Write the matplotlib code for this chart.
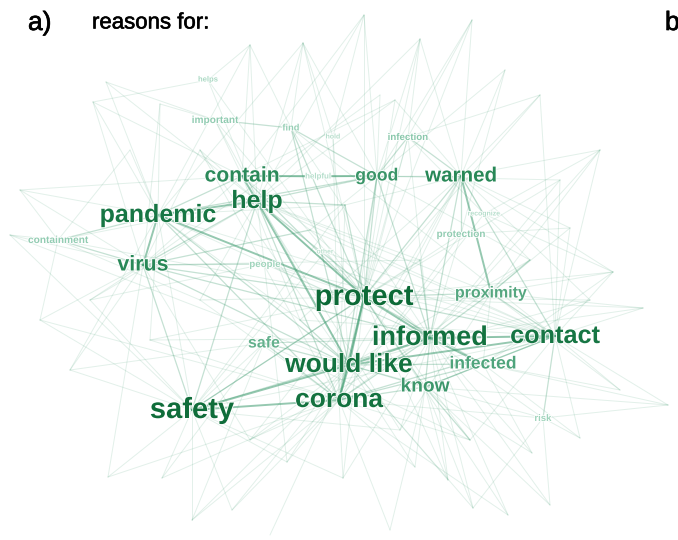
import numpy as np
import matplotlib
matplotlib.use("Agg")
import matplotlib.pyplot as plt
import matplotlib.patheffects as pe
from matplotlib.colors import LinearSegmentedColormap

plt.rcParams['font.family'] = ['Liberation Sans', 'DejaVu Sans']

# word nodes: label, layout position (px), font size, shade (0 pale .. 1 dark)
words = ["protect", "safety", "would like", "informed", "corona", "contact",
         "pandemic", "help", "contain", "warned", "good", "virus", "know",
         "infected", "proximity", "safe", "infection", "important",
         "containment", "protection", "people", "find", "helps", "risk",
         "hold", "helpful", "recognize", "other"]
word_x = [364, 192, 349, 430, 339, 555, 158, 257, 242, 461, 377, 143, 425,
          483, 491, 264, 408, 215, 58, 461, 265, 291, 208, 543, 333, 318, 484, 325]
word_y = [297, 410, 365, 338, 400, 336, 215, 201, 176, 176, 176, 265, 387,
          364, 293, 343, 137, 120, 240, 234, 264, 128, 80, 418, 137, 177, 214, 252]
word_size = [21, 21, 19, 19.5, 19, 18.2, 18, 18, 15.2, 14.8, 12.7, 15.4, 13.8,
             12.6, 11.5, 11.5, 7, 7.3, 7.3, 7.2, 7, 6.7, 5.5, 6.9, 5, 5.7, 5, 4.9]
word_shade = [1.0, 0.97, 0.92, 0.92, 0.92, 0.88, 0.88, 0.88, 0.7, 0.72, 0.62,
              0.72, 0.6, 0.5, 0.48, 0.42, 0.28, 0.24, 0.24, 0.24, 0.18, 0.22,
              0.14, 0.18, 0.1, 0.1, 0.1, 0.08]

# unlabeled end points of the network
hub_x = [303, 420, 472, 364, 250, 106, 93, 160, 20, 10, 40, 70, 108, 162, 192,
         232, 287, 343, 415, 448, 473, 508, 550, 532, 580, 620, 668, 643, 613,
         570, 600, 540, 505, 380, 130, 90, 270, 390,
         345, 310, 420, 530, 200, 300, 470, 400, 250, 560, 395, 200, 150, 590]
hub_y = [43, 39, 20, 15, 45, 82, 102, 104, 190, 235, 320, 370, 477, 478, 520,
         510, 462, 478, 467, 480, 508, 515, 505, 453, 438, 390, 405, 308, 272,
         228, 150, 95, 70, 95, 150, 300, 535, 530,
         205, 230, 260, 260, 300, 320, 440, 430, 440, 180, 100, 150, 340, 300]

strong_edges = [
    ("protect", "would like"), ("protect", "corona"), ("protect", "informed"),
    ("informed", "contact"), ("would like", "corona"), ("would like", "informed"),
    ("help", "protect"), ("pandemic", "protect"), ("contain", "good"),
    ("pandemic", "virus"), ("safety", "would like"), ("contact", "would like"),
    ("warned", "proximity"), ("help", "would like"), ("informed", "infected"),
    ("contain", "help"), ("pandemic", "help"), ("corona", "safety"),
]

medium_edges = [
    ("protect", "contact"), ("protect", "proximity"), ("protect", "warned"),
    ("protect", "good"), ("protect", "safety"), ("protect", "virus"),
    ("protect", "know"), ("protect", "infected"), ("corona", "know"),
    ("corona", "infected"), ("corona", "help"), ("corona", "pandemic"),
    ("corona", "contact"), ("would like", "know"), ("would like", "infected"),
    ("would like", "pandemic"), ("would like", "virus"), ("would like", "safe"),
    ("informed", "know"), ("informed", "warned"), ("informed", "help"),
    ("informed", "corona"), ("informed", "proximity"), ("contact", "infected"),
    ("contact", "proximity"), ("contact", "know"), ("contact", "risk"),
    ("help", "good"), ("help", "virus"), ("pandemic", "contain"),
    ("pandemic", "containment"), ("pandemic", "good"), ("virus", "containment"),
    ("virus", "people"), ("virus", "safety"), ("warned", "good"),
    ("warned", "protection"), ("warned", "infection"), ("good", "find"),
    ("good", "corona"), ("important", "find"), ("find", "would like"),
    ("infection", "good"), ("safe", "corona"), ("safety", "help"),
    ("safety", "informed"), ("know", "infected"), ("contain", "protect"),
    ("good", "informed"), ("warned", "contact"), ("helpful", "contain"),
    ("helpful", "good"), ("find", "protect"), ("virus", "informed"),
    ("help", "a38"), ("protect", "a38"), ("virus", "a39"), ("informed", "a40"),
    ("proximity", "a41"), ("would like", "a43"), ("know", "a44"),
]

faint_edges = [
    ("safety", "a12"), ("safety", "a13"), ("safety", "a14"), ("safety", "a15"),
    ("safety", "a16"), ("corona", "a16"), ("corona", "a17"), ("corona", "a18"),
    ("corona", "a15"), ("would like", "a18"), ("would like", "a19"),
    ("would like", "a20"), ("informed", "a21"), ("informed", "a22"),
    ("informed", "a23"), ("know", "a19"), ("know", "a20"), ("know", "a23"),
    ("risk", "a22"), ("risk", "a24"), ("contact", "a25"), ("contact", "a26"),
    ("contact", "a27"), ("contact", "a28"), ("proximity", "a28"),
    ("proximity", "a29"), ("proximity", "a27"), ("infected", "a26"),
    ("infected", "a25"), ("warned", "a29"), ("warned", "a30"), ("warned", "a31"),
    ("warned", "a32"), ("infection", "a31"), ("infection", "a1"),
    ("infection", "a2"), ("good", "a1"), ("good", "a3"), ("good", "a33"),
    ("hold", "a3"), ("hold", "a0"), ("find", "a0"), ("find", "a4"),
    ("help", "a0"), ("help", "a4"), ("help", "a5"), ("contain", "a4"),
    ("contain", "a6"), ("important", "a5"), ("important", "a7"),
    ("helps", "a6"), ("helps", "a4"), ("pandemic", "a6"), ("pandemic", "a7"),
    ("pandemic", "a8"), ("pandemic", "a34"), ("virus", "a8"), ("virus", "a9"),
    ("virus", "a10"), ("virus", "a11"), ("virus", "a35"), ("containment", "a8"),
    ("containment", "a34"), ("safety", "a11"), ("safety", "a10"),
    ("safe", "a11"), ("safe", "a13"), ("protect", "a2"), ("protect", "a3"),
    ("protect", "a17"), ("protect", "a21"), ("corona", "a13"),
    ("people", "a35"), ("protection", "a29"), ("protection", "a32"),
    ("recognize", "a30"), ("recognize", "a28"), ("would like", "a36"),
    ("corona", "a37"), ("know", "a37"), ("informed", "a19"), ("contact", "a24"),
    ("people", "protect"), ("people", "informed"), ("other", "protect"),
    ("other", "contact"), ("recognize", "warned"), ("protection", "informed"),
    ("protection", "corona"), ("infection", "protect"), ("important", "contain"),
    ("important", "would like"), ("helps", "help"), ("find", "informed"),
    ("hold", "would like"), ("safe", "informed"), ("safe", "contact"),
    ("infected", "proximity"), ("pandemic", "informed"), ("pandemic", "contact"),
    ("help", "contact"), ("help", "proximity"), ("contain", "virus"),
    ("good", "would like"), ("warned", "would like"), ("warned", "corona"),
    ("safety", "contact"), ("safety", "safe"), ("safety", "pandemic"),
    ("containment", "protect"), ("containment", "help"), ("risk", "informed"),
    ("risk", "would like"), ("risk", "corona"), ("important", "protect"),
    ("infection", "corona"), ("helps", "protect"), ("hold", "corona"),
    ("recognize", "corona"), ("protection", "safety"), ("other", "safety"),
    ("people", "contact"), ("find", "contact"), ("infection", "informed"),
    ("help", "a1"), ("pandemic", "a0"), ("virus", "a33"), ("warned", "a2"),
    ("proximity", "a30"), ("contact", "a29"), ("infected", "a24"),
    ("know", "a22"), ("corona", "a21"), ("safety", "a17"), ("virus", "a12"),
    ("safe", "a14"), ("would like", "a15"), ("informed", "a27"),
    ("contain", "a3"), ("good", "a32"), ("protect", "a31"), ("help", "a35"),
    # extra interior connections
    ("a38", "pandemic"), ("a38", "corona"), ("a38", "warned"), ("a38", "safety"),
    ("a39", "contain"), ("a39", "informed"), ("a39", "contact"), ("a39", "good"),
    ("a40", "help"), ("a40", "warned"), ("a40", "safety"), ("a40", "virus"),
    ("a41", "good"), ("a41", "would like"), ("a41", "infection"), ("a41", "corona"),
    ("a42", "help"), ("a42", "protect"), ("a42", "corona"), ("a42", "containment"),
    ("a43", "pandemic"), ("a43", "warned"), ("a43", "contact"), ("a43", "contain"),
    ("a44", "corona"), ("a44", "contact"), ("a44", "protect"), ("a44", "safe"),
    ("a45", "informed"), ("a45", "safety"), ("a45", "proximity"), ("a45", "help"),
    ("a46", "would like"), ("a46", "informed"), ("a46", "virus"), ("a46", "protect"),
    ("a47", "protect"), ("a47", "informed"), ("a47", "good"), ("a47", "contact"),
    ("a48", "help"), ("a48", "protect"), ("a48", "warned"), ("a48", "contain"),
    ("a49", "protect"), ("a49", "corona"), ("a49", "virus"), ("a49", "would like"),
    ("a50", "protect"), ("a50", "pandemic"), ("a50", "corona"), ("a50", "informed"),
    ("a51", "would like"), ("a51", "protect"), ("a51", "infected"), ("a51", "warned"),
    ("infected", "a23"), ("infected", "a28"), ("proximity", "a25"),
    ("know", "a18"), ("know", "a26"), ("risk", "a26"), ("risk", "a20"),
    ("contact", "a30"), ("contact", "a31"), ("warned", "a28"), ("warned", "a1"),
    ("good", "a0"), ("good", "a2"), ("help", "a3"), ("pandemic", "a4"),
    ("pandemic", "a5"), ("virus", "a6"), ("virus", "a7"), ("containment", "a9"),
    ("containment", "a10"), ("safety", "a35"), ("safety", "a9"),
    ("corona", "a12"), ("corona", "a14"), ("would like", "a14"),
    ("would like", "a16"), ("informed", "a17"), ("informed", "a20"),
    ("protect", "a19"), ("protect", "a0"), ("protect", "a1"), ("protect", "a27"),
    ("protect", "a28"), ("help", "a16"), ("pandemic", "a11"), ("contain", "a8"),
    ("would like", "a9"), ("corona", "a10"), ("informed", "a30"),
]

pos = {w: (x, y) for w, x, y in zip(words, word_x, word_y)}
for i, (x, y) in enumerate(zip(hub_x, hub_y)):
    pos["a%d" % i] = (x, y)

fig = plt.figure(figsize=(6.78, 5.4), dpi=100)
ax = fig.add_axes([0, 0, 1, 1])
ax.set_xlim(0, 678)
ax.set_ylim(540, 0)
ax.axis("off")

edge_col = "#3f9c70"
for edges, alpha, lw in [(faint_edges, 0.15, 0.7),
                         (medium_edges, 0.3, 0.9),
                         (strong_edges, 0.55, 1.4)]:
    for a, b in edges:
        (x0, y0), (x1, y1) = pos[a], pos[b]
        ax.plot([x0, x1], [y0, y1], color=edge_col, alpha=alpha, lw=lw,
                solid_capstyle="round", zorder=1)

cmap = LinearSegmentedColormap.from_list(
    "greens", ["#cdeadc", "#8fcbb0", "#4fa47c", "#238452", "#0c6a37"])
for w, x, y, s, c in zip(words, word_x, word_y, word_size, word_shade):
    ax.text(x, y, w, fontsize=s, fontweight="bold", color=cmap(c),
            ha="center", va="center", zorder=3,
            path_effects=[pe.withStroke(linewidth=1.2, foreground="white")])

# panel tags and heading
fig.text(28 / 678, 1 - 23 / 540, "a)", fontsize=19, va="center", ha="left",
         path_effects=[pe.withStroke(linewidth=0.5, foreground="black")])
fig.text(92 / 678, 1 - 23 / 540, "reasons for:", fontsize=16, va="center", ha="left",
         path_effects=[pe.withStroke(linewidth=0.4, foreground="black")])
fig.text(665 / 678, 1 - 23 / 540, "b", fontsize=19, va="center", ha="left",
         path_effects=[pe.withStroke(linewidth=0.5, foreground="black")])

fig.savefig("out.png", dpi=100, facecolor="white")
